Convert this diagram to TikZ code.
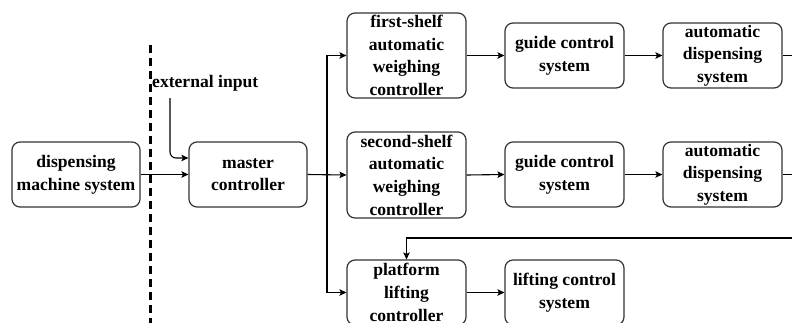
\documentclass[tikz,border=0pt]{standalone}
\usepackage{fontspec}
\setmainfont{Liberation Serif}[BoldFont={Liberation Serif Bold}]
\usetikzlibrary{arrows.meta}
\begin{document}
\begin{tikzpicture}[x=1pt,y=-1pt,
  blk/.style={draw=black!80, line width=1.2pt, rounded corners=8pt, inner sep=0pt},
  txt/.style={font=\fontsize{17.6}{22.7}\selectfont\bfseries, align=center, inner sep=0pt, text=black},
  arr/.style={-{Stealth[length=7pt,width=6.5pt,inset=1.5pt]}, line width=1.1pt},
  ln/.style={line width=1.1pt}]
\clip (0,0) rectangle (792,322);

% boundary between the machine and the controller side
\draw[line width=3pt, dash pattern=on 8pt off 5pt] (150,45) -- (150,330);

% blocks
\node[blk, minimum width=128, minimum height=65] (dms) at (76,174.5) {};
\node[txt] (dmst) at (dms) {dispensing\\machine system};
\node[blk, minimum width=118, minimum height=65] (mc) at (248,174.5) {};
\node[txt] (mct) at (mc) {master\\controller};

\node[blk, minimum width=119, minimum height=85] (fs) at (406.5,55.5) {};
\node[txt] (fst) at (fs) {first-shelf\\automatic\\weighing\\controller};
\node[blk, minimum width=119, minimum height=86] (ss) at (406.5,175) {};
\node[txt] (sst) at (ss) {second-shelf\\automatic\\weighing\\controller};
\node[blk, minimum width=119, minimum height=65] (pl) at (406.5,292.5) {};
\node[txt] (plt) at (pl) {platform\\lifting\\controller};

\node[blk, minimum width=119, minimum height=65] (g1) at (564.5,55.5) {};
\node[txt] (g1t) at (g1) {guide control\\system};
\node[blk, minimum width=119, minimum height=65] (g2) at (564.5,174.5) {};
\node[txt] (g2t) at (g2) {guide control\\system};
\node[blk, minimum width=119, minimum height=65] (lc) at (564.5,292.5) {};
\node[txt] (lct) at (lc) {lifting control\\system};

\node[blk, minimum width=119, minimum height=65] (a1) at (722.5,55.5) {};
\node[txt] (a1t) at (a1) {automatic\\dispensing\\system};
\node[blk, minimum width=119, minimum height=65] (a2) at (722.5,174.5) {};
\node[txt] (a2t) at (a2) {automatic\\dispensing\\system};

% external input
\node[txt, anchor=base west] (ext) at (152,87) {external input};
\coordinate (extsrc) at (170,98);
\draw[arr, rounded corners=6pt] (extsrc) |- ([yshift=16.5pt]mc.west);

% connectors
\coordinate (split) at (327,174.5);
\draw[arr] (dms.east) -- (mc.west);
\draw[arr] (mc.east) -- (ss.west);
\draw[arr] (split) |- (fs.west);
\draw[arr] (split) |- (pl.west);
\draw[arr] (fs.east) -- (g1.west);
\draw[arr] (g1.east) -- (a1.west);
\draw[arr] (ss.east) -- (g2.west);
\draw[arr] (g2.east) -- (a2.west);
\draw[arr] (pl.east) -- (lc.west);

\coordinate (out1) at (800,55.5);
\coordinate (out2) at (800,174.5);
\coordinate (ret) at (800,238);
\draw[ln] (a1.east) -- (out1);
\draw[ln] (a2.east) -- (out2);
\draw[arr] (ret) -| (pl.north);
\end{tikzpicture}
\end{document}
